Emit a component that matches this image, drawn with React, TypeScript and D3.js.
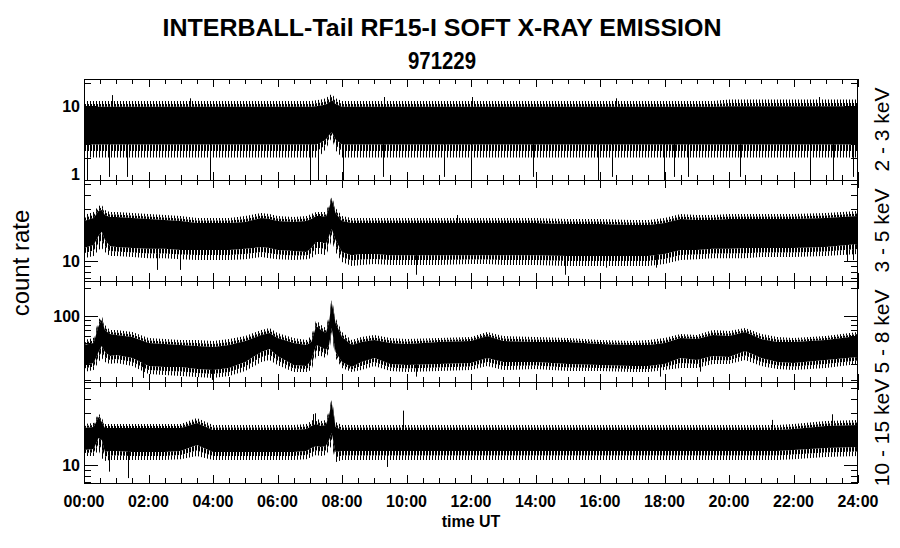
import React from "react";
import * as d3 from "d3";

// ---------- DATA ----------
const TITLE = "INTERBALL-Tail RF15-I SOFT X-RAY EMISSION";
const DATE = "971229";
const X_LABEL = "time UT";
const Y_LABEL = "count rate";
const CHANNELS = ["2 - 3 keV", "3 - 5 keV", "5 - 8 keV", "10 - 15 keV"];
const HOUR_TICKS = [0, 2, 4, 6, 8, 10, 12, 14, 16, 18, 20, 22, 24];

// time grid (hours UT)
const TIMES = [
  0, 0.3, 0.45, 0.55, 0.65, 0.8, 1,
  1.5, 2, 2.5, 3, 3.5, 4, 4.5, 5, 5.5, 5.75, 6, 6.5, 6.9,
  7.05, 7.2, 7.35, 7.5, 7.6, 7.68, 7.8, 8,
  8.3, 8.6, 9, 9.5, 10, 11, 12, 12.5, 13, 14, 15, 16, 17, 17.5, 18, 18.5, 19, 19.5,
  20, 20.5, 21, 21.5, 22, 23, 24,
];

// 2 - 3 keV : outer (sparse spikes) and inner (dense) envelopes
const CH1_OUT_HI = [
  11.5, 11.5, 11.5, 11.5, 11.5, 11.5, 11.5,
  11.5, 11.5, 11.5, 11.5, 11.5, 11.5, 11.5, 11.5, 11.5, 11.5, 11.5, 11.5, 11.5,
  11.5, 11.8, 12, 12.5, 13.5, 14.3, 12.5, 11.5,
  11.5, 11.5, 11.5, 11.5, 11.5, 11.5, 11.5, 11.5, 11.5, 11.5, 11.5, 11.5, 11.5, 11.5, 11.5, 11.5, 11.5, 11.5,
  12, 12, 12, 12, 12, 12, 12,
];
const CH1_IN_HI = [
  9.6, 9.6, 9.6, 9.6, 9.6, 9.6, 9.6,
  9.6, 9.6, 9.6, 9.6, 9.6, 9.6, 9.6, 9.6, 9.6, 9.6, 9.6, 9.6, 9.6,
  9.6, 9.8, 10, 10.3, 11, 11.9, 10.5, 9.6,
  9.6, 9.6, 9.6, 9.6, 9.6, 9.6, 9.6, 9.6, 9.6, 9.6, 9.6, 9.6, 9.6, 9.6, 9.6, 9.6, 9.6, 9.6,
  9.8, 9.8, 9.8, 9.8, 9.8, 9.8, 9.8,
];
const CH1_IN_LO = [
  3, 3, 3, 3, 3, 3, 3,
  3, 3, 3, 3, 3, 3, 3, 3, 3, 3, 3, 3, 3,
  3, 3, 3.2, 3.5, 4, 4.4, 3.5, 3,
  3, 3, 3, 3, 3, 3, 3, 3, 3, 3, 3, 3, 3, 3, 3, 3, 3, 3,
  3, 3, 3, 3, 3, 3, 3,
];
const CH1_OUT_LO = [
  2, 2, 2, 2, 2, 2, 2,
  2, 2, 2, 2, 2, 2, 2, 2, 2, 2, 2, 2, 2,
  2, 2, 2.2, 2.6, 3.2, 3.7, 2.5, 2,
  2, 2, 2, 2, 2, 2, 2, 2, 2, 2, 2, 2, 2, 2, 2, 2, 2, 2,
  2, 2, 2, 2, 2, 2, 2,
];
const CH1_SPIKE_T = [0.08, 0.78, 1.33, 3.9, 7.0, 7.27, 8.03, 9.27, 11.15, 12.0, 13.92, 15.94, 16.37, 17.98, 18.29, 18.73, 20.34, 22.51, 23.22, 23.84, 0.86, 3.3, 9.3, 12.02, 16.5, 22.8];
const CH1_SPIKE_V = [1, 1.1, 1.1, 1, 1.1, 1, 1, 1.1, 1.1, 1, 1.1, 1, 1.1, 1, 1.1, 1.1, 1.1, 1.1, 1, 1.1, 13.8, 12.5, 13, 13, 12.5, 13];

// 3 - 5 keV
const CH2_OUT_HI = [
  26.2, 27.9, 31.6, 32.3, 29.1, 27.9, 27.9,
  27.3, 26.8, 26.2, 25.7, 24.6, 24.6, 24.6, 25.7, 27.3, 26.8, 25.7, 25.1, 25.7,
  26.8, 27.9, 27.9, 27.9, 33.0, 39.0, 30.3, 25.7,
  24.6, 24.6, 24.6, 24.6, 24.6, 24.6, 24.6, 24.6, 24.6, 24.6, 24.1, 24.1, 23.6, 23.6, 24.6, 26.8, 26.2, 26.2,
  26.8, 26.8, 26.8, 26.8, 26.8, 27.3, 28.5,
];
const CH2_IN_HI = [
  23.1, 24.6, 28.5, 29.1, 26.2, 25.1, 25.1,
  24.6, 24.1, 23.6, 23.1, 22.2, 22.2, 22.2, 22.6, 24.6, 24.1, 23.1, 22.6, 23.1,
  24.1, 25.7, 25.7, 25.1, 30.3, 36.6, 27.3, 23.1,
  22.2, 22.2, 22.2, 22.2, 22.2, 22.2, 22.2, 22.2, 22.2, 22.2, 21.7, 21.7, 21.2, 21.2, 22.2, 24.1, 23.6, 23.6,
  24.1, 24.1, 24.1, 24.1, 24.1, 24.6, 25.7,
];
const CH2_IN_LO = [
  13.1, 14.0, 16.9, 18.4, 15.5, 13.7, 13.4,
  13.1, 12.9, 12.9, 12.6, 12.6, 12.6, 12.6, 12.9, 13.4, 13.1, 12.6, 12.3, 12.1,
  13.1, 14.9, 14.9, 14.3, 16.9, 19.5, 15.5, 12.1,
  11.3, 11.6, 11.6, 11.3, 11.3, 11.3, 11.3, 11.3, 11.3, 11.3, 11.1, 11.1, 11.1, 11.1, 11.6, 12.6, 12.6, 12.9,
  12.9, 13.1, 13.1, 13.1, 13.1, 13.4, 14.3,
];
const CH2_OUT_LO = [
  10.6, 11.1, 12.6, 13.1, 12.1, 11.1, 11.1,
  10.9, 10.6, 10.6, 10.4, 10.2, 10.2, 10.2, 10.4, 10.9, 10.6, 10.4, 10.2, 10.4,
  10.6, 11.6, 11.6, 11.3, 13.1, 15.5, 12.1, 9.8,
  9.0, 9.2, 9.4, 9.2, 9.2, 9.2, 9.4, 9.4, 9.2, 9.2, 9.0, 9.0, 9.0, 9.0, 9.4, 10.2, 10.4, 10.6,
  10.6, 10.6, 10.9, 10.9, 10.9, 11.1, 11.6,
];
const CH2_SPIKE_T = [2.25, 2.98, 10.3, 14.9, 16.2, 17.75, 23.65, 23.85, 11.56];
const CH2_SPIKE_V = [8.3, 8.3, 7.5, 7.5, 8.7, 8.7, 9.9, 10.2, 26.2];

// 5 - 8 keV
const CH3_OUT_HI = [
  54.5, 57.3, 89.5, 98.8, 79.1, 69.8, 69.8,
  66.5, 57.3, 55.9, 54.5, 54.5, 53.2, 55.9, 60.2, 69.8, 73.4, 64.8, 57.3, 54.5,
  60.2, 89.5, 79.1, 73.4, 101, 154, 94, 66.5,
  54.5, 58.7, 61.7, 57.3, 55.9, 57.3, 58.7, 66.5, 60.2, 58.7, 57.3, 54.5, 53.2, 54.5, 57.3, 63.3, 61.7, 69.8,
  68.1, 73.4, 63.3, 58.7, 57.3, 60.2, 66.5,
];
const CH3_IN_HI = [
  48.2, 50.6, 77.1, 89.5, 69.8, 63.3, 61.7,
  58.7, 50.6, 49.4, 48.2, 47.0, 45.8, 48.2, 53.2, 61.7, 64.8, 57.3, 50.6, 48.2,
  51.9, 77.1, 69.8, 64.8, 85.1, 140, 83.1, 58.7,
  48.2, 51.9, 54.5, 50.6, 49.4, 51.9, 53.2, 60.2, 53.2, 51.9, 51.9, 49.4, 48.2, 48.2, 50.6, 57.3, 55.9, 61.7,
  60.2, 66.5, 55.9, 51.9, 51.9, 54.5, 60.2,
];
const CH3_IN_LO = [
  29.4, 30.8, 40.5, 47.0, 40.5, 36.7, 37.6,
  34.9, 28.6, 27.9, 27.9, 26.6, 25.9, 27.3, 31.6, 40.5, 43.6, 36.7, 29.4, 28.6,
  33.2, 48.2, 45.8, 42.6, 48.2, 73.4, 40.5, 31.6,
  27.9, 31.6, 34.9, 30.1, 29.4, 30.1, 30.8, 34.9, 31.6, 31.6, 30.1, 29.4, 28.6, 28.6, 30.1, 34.9, 33.2, 36.7,
  35.8, 41.5, 34.9, 31.6, 30.8, 33.2, 35.8,
];
const CH3_OUT_LO = [
  24.7, 25.9, 31.6, 34.9, 31.6, 30.1, 30.8,
  28.6, 23.5, 22.9, 22.4, 21.8, 21.3, 22.4, 25.3, 31.6, 33.2, 29.4, 24.7, 24.7,
  25.9, 36.7, 36.7, 34.9, 40.5, 61.7, 34.9, 27.3,
  24.7, 25.9, 28.6, 25.3, 24.7, 25.3, 25.9, 28.6, 25.9, 26.6, 25.3, 25.3, 24.7, 24.7, 25.9, 27.3, 27.3, 30.1,
  30.1, 33.2, 28.6, 26.6, 25.9, 27.3, 30.1,
];
const CH3_SPIKE_T = [3.96, 1.84, 10.3, 17.86, 19.1];
const CH3_SPIKE_V = [20.3, 21.3, 22.0, 22.0, 24.9];

// 10 - 15 keV
const CH4_OUT_HI = [
  23.6, 24.1, 29.7, 26.8, 23.6, 23.6, 23.6,
  23.6, 23.6, 23.6, 23.6, 26.8, 23.1, 23.1, 23.1, 23.1, 23.1, 23.1, 23.1, 23.6,
  25.1, 26.8, 25.1, 25.7, 31.6, 40.6, 24.6, 23.1,
  23.1, 23.1, 23.1, 23.1, 23.1, 23.1, 23.1, 23.1, 23.1, 23.1, 23.1, 23.1, 23.1, 23.1, 23.1, 23.1, 23.1, 23.1,
  23.1, 23.1, 23.1, 23.1, 23.6, 25.1, 25.7,
];
const CH4_IN_HI = [
  21.7, 22.2, 27.3, 24.6, 21.7, 21.7, 21.7,
  21.7, 21.7, 21.7, 21.7, 24.1, 20.8, 20.8, 20.8, 20.8, 20.8, 20.8, 20.8, 21.2,
  22.6, 23.6, 22.6, 23.1, 28.5, 37.4, 22.2, 20.8,
  20.8, 20.8, 20.8, 20.8, 20.8, 20.8, 20.8, 20.8, 20.8, 20.8, 20.8, 20.8, 20.8, 20.8, 20.8, 20.8, 20.8, 20.8,
  20.8, 20.8, 20.8, 20.8, 21.2, 22.6, 23.1,
];
const CH4_IN_LO = [
  13.7, 14.0, 17.6, 16.9, 13.1, 13.4, 13.4,
  13.1, 13.1, 13.1, 13.4, 15.2, 13.1, 13.1, 13.1, 13.1, 13.1, 13.1, 13.1, 13.4,
  14.3, 14.9, 14.6, 14.9, 16.9, 19.5, 13.1, 13.4,
  13.4, 13.4, 13.4, 13.4, 13.4, 13.4, 13.4, 13.4, 13.4, 13.4, 13.4, 13.4, 13.4, 13.4, 13.4, 13.4, 13.4, 13.4,
  13.4, 13.4, 13.4, 13.4, 13.7, 14.3, 14.6,
];
const CH4_OUT_LO = [
  12.1, 12.1, 13.7, 11.6, 10.9, 11.1, 11.1,
  11.1, 11.1, 11.1, 11.3, 12.1, 11.1, 11.1, 11.1, 11.1, 11.1, 11.1, 11.1, 11.3,
  11.8, 12.3, 12.1, 12.3, 13.7, 15.2, 10.6, 11.1,
  11.1, 11.1, 11.1, 11.1, 11.1, 11.1, 11.1, 11.1, 11.1, 11.1, 11.1, 11.1, 11.1, 11.1, 11.1, 11.1, 11.1, 11.1,
  11.1, 11.1, 11.1, 11.1, 11.3, 11.8, 12.1,
];
const CH4_SPIKE_T = [0.78, 1.37, 9.38, 9.9, 23.18, 21.32, 7.11, 7.16];
const CH4_SPIKE_V = [8.7, 7.6, 9.6, 31.2, 28.9, 25.7, 29.0, 29.5];

// ---------- LAYOUT ----------
const W = 900, H = 548;
const X0 = 84, X1 = 858;
const PANEL_EDGES = [79, 180, 281, 382, 483];
const DOMAINS: [number, number][] = [[1, 22.7], [6.58, 54.5], [19.27, 235], [6.86, 56.8]];
const FONT = "'Liberation Sans', Arial, Helvetica, sans-serif";

const SERIES = [
  { oh: CH1_OUT_HI, ih: CH1_IN_HI, il: CH1_IN_LO, ol: CH1_OUT_LO, st: CH1_SPIKE_T, sv: CH1_SPIKE_V },
  { oh: CH2_OUT_HI, ih: CH2_IN_HI, il: CH2_IN_LO, ol: CH2_OUT_LO, st: CH2_SPIKE_T, sv: CH2_SPIKE_V },
  { oh: CH3_OUT_HI, ih: CH3_IN_HI, il: CH3_IN_LO, ol: CH3_OUT_LO, st: CH3_SPIKE_T, sv: CH3_SPIKE_V },
  { oh: CH4_OUT_HI, ih: CH4_IN_HI, il: CH4_IN_LO, ol: CH4_OUT_LO, st: CH4_SPIKE_T, sv: CH4_SPIKE_V },
];

function logTicks(lo: number, hi: number) {
  const out: { v: number; major: boolean }[] = [];
  for (let d = Math.floor(Math.log10(lo)); d <= Math.ceil(Math.log10(hi)); d++) {
    for (let m = 1; m <= 9; m++) {
      const v = m * Math.pow(10, d);
      if (v >= lo * 0.999 && v <= hi * 1.001) out.push({ v, major: m === 1 });
    }
  }
  return out;
}

export default function App() {
  const x = d3.scaleLinear().domain([0, 24]).range([X0, X1]);
  const minorHours = d3.range(0, 24.001, 0.5);

  return (
    <svg width={W} height={H} style={{ position: "absolute", left: 0, top: 0, background: "#fff" }}
      fontFamily={FONT}>
      <defs>
        <pattern id="spkDense" patternUnits="userSpaceOnUse" width="3" height="4">
          <rect x="0" y="0" width="2" height="4" fill="#000" />
        </pattern>
        <pattern id="spkSparse" patternUnits="userSpaceOnUse" width="3" height="4">
          <rect x="0" y="0" width="1" height="4" fill="#000" />
        </pattern>
        {PANEL_EDGES.slice(0, 4).map((t, i) => (
          <clipPath id={`clip${i}`} key={i}>
            <rect x={X0} y={t} width={X1 - X0} height={PANEL_EDGES[i + 1] - t} />
          </clipPath>
        ))}
      </defs>
      <rect x={0} y={0} width={W} height={H} fill="#fff" />

      <text x={442} y={36} textAnchor="middle" fontSize={24} fontWeight="bold"
        textLength={559} lengthAdjust="spacingAndGlyphs">{TITLE}</text>
      <text x={442} y={69} textAnchor="middle" fontSize={24} fontWeight="bold"
        textLength={68} lengthAdjust="spacingAndGlyphs">{DATE}</text>

      {SERIES.map((s, i) => {
        const top = PANEL_EDGES[i], bot = PANEL_EDGES[i + 1];
        const y = d3.scaleLog().domain(DOMAINS[i]).range([bot, top]);
        const idx = TIMES.map((_, k) => k);
        const gm = (a: number, b: number) => Math.sqrt(a * b);
        const band = (lo: (k: number) => number, hi: (k: number) => number) =>
          d3.area<number>().x((k) => x(TIMES[k])).y0((k) => y(lo(k))).y1((k) => y(hi(k)))(idx) || "";
        const farHi = band((k) => gm(s.oh[k], s.ih[k]), (k) => s.oh[k]);
        const nearHi = band((k) => s.ih[k], (k) => gm(s.oh[k], s.ih[k]));
        const nearLo = band((k) => gm(s.ol[k], s.il[k]), (k) => s.il[k]);
        const farLo = band((k) => s.ol[k], (k) => gm(s.ol[k], s.il[k]));
        const inner = band((k) => s.il[k], (k) => s.ih[k]);
        const ticks = logTicks(DOMAINS[i][0], DOMAINS[i][1]);
        return (
          <g key={i}>
            <g clipPath={`url(#clip${i})`}>
              <path d={farHi} fill="url(#spkSparse)" />
              <path d={farLo} fill="url(#spkSparse)" />
              <path d={nearHi} fill="url(#spkDense)" />
              <path d={nearLo} fill="url(#spkDense)" />
              <path d={inner} fill="#000" />
              {s.st.map((t, k) => {
                const j = Math.min(TIMES.length - 1, d3.bisectLeft(TIMES, t));
                const mid = gm(s.ih[j], s.il[j]);
                const xx = Math.round(x(t)) + 0.5;
                return <line key={k} x1={xx} x2={xx} y1={y(mid)} y2={y(s.sv[k])} stroke="#000" strokeWidth={1} />;
              })}
            </g>
            {/* frame */}
            <rect x={X0 + 0.5} y={top + 0.5} width={X1 - X0 - 1} height={bot - top} fill="none" stroke="#000" strokeWidth={1} />
            {/* x ticks top & bottom */}
            {minorHours.map((h, k) => {
              const major = Math.abs(h / 2 - Math.round(h / 2)) < 1e-6;
              const len = major ? 8 : 5;
              const xx = Math.round(x(h)) + 0.5;
              return (
                <g key={k}>
                  <line x1={xx} x2={xx} y1={top} y2={top + len} stroke="#000" />
                  <line x1={xx} x2={xx} y1={bot} y2={bot - len} stroke="#000" />
                </g>
              );
            })}
            {/* y ticks */}
            {ticks.map((tk, k) => {
              const yy = Math.round(y(tk.v)) + 0.5;
              const len = tk.major ? 14 : 7;
              return (
                <g key={k}>
                  <line x1={X0} x2={X0 + len} y1={yy} y2={yy} stroke="#000" />
                  <line x1={X1} x2={X1 - len} y1={yy} y2={yy} stroke="#000" />
                  {tk.major && (
                    <text x={80} y={Math.min(yy, bot - 6)} textAnchor="end" dominantBaseline="central"
                      fontSize={16} fontWeight="bold">{String(Math.round(tk.v))}</text>
                  )}
                </g>
              );
            })}
            <text transform={`translate(881,${(top + bot) / 2}) rotate(-90)`} textAnchor="middle"
              dominantBaseline="central" fontSize={21}>{CHANNELS[i]}</text>
          </g>
        );
      })}

      {HOUR_TICKS.map((h) => (
        <text key={h} x={x(h)} y={507} textAnchor="middle" fontSize={16} fontWeight="bold">
          {String(h).padStart(2, "0") + ":00"}
        </text>
      ))}
      <text x={471} y={527} textAnchor="middle" fontSize={16} fontWeight="bold">{X_LABEL}</text>
      <text transform={`translate(20,263) rotate(-90)`} textAnchor="middle" dominantBaseline="central"
        fontSize={24}>{Y_LABEL}</text>
    </svg>
  );
}
